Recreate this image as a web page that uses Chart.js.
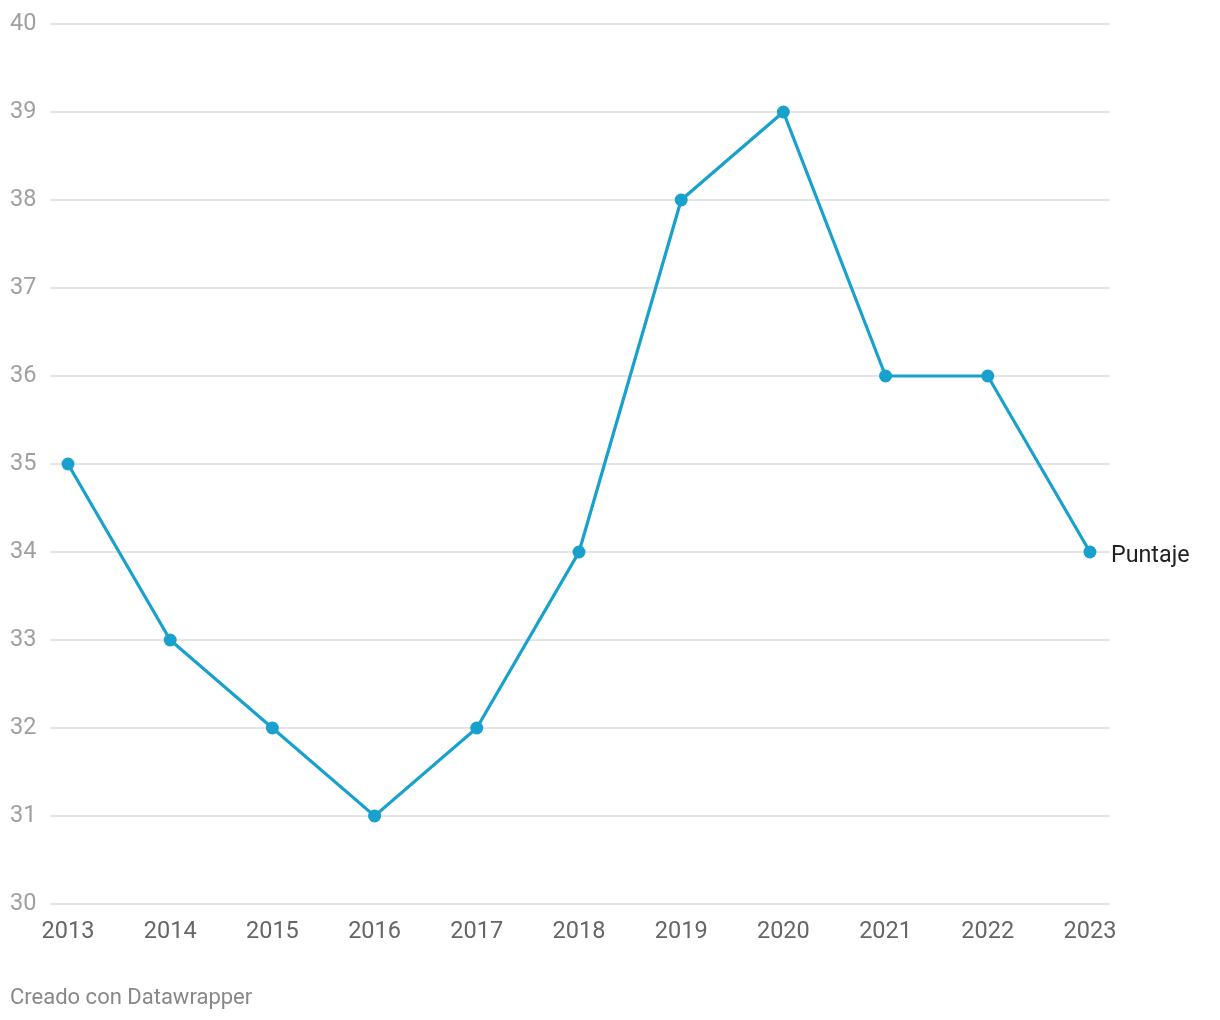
<!DOCTYPE html>
<html>
<head>
<meta charset="utf-8">
<script src="https://cdn.jsdelivr.net/npm/chart.js@4/dist/chart.umd.min.js"></script>
<style>
  html, body { margin: 0; padding: 0; background: #fff; }
  #wrap { position: relative; width: 1220px; height: 1020px; }
  #footer { position: absolute; left: 10px; top: 984px; font: 22px Roboto, sans-serif; color: #888; }
</style>
</head>
<body>
<div id="wrap">
  <canvas id="chart" width="1220" height="1020"></canvas>
  <div id="footer">Creado con Datawrapper</div>
</div>
<script>
var years = [2013, 2014, 2015, 2016, 2017, 2018, 2019, 2020, 2021, 2022, 2023]
var puntaje = [35, 33, 32, 31, 32, 34, 38, 39, 36, 36, 34]
var seriesName = 'Puntaje'
var yTicks = [30, 31, 32, 33, 34, 35, 36, 37, 38, 39, 40]

var lineColor = '#18a1cd'

// label at the end of the line
var endLabel = {
  id: 'endLabel',
  afterDatasetsDraw: function(chart) {
    var meta = chart.getDatasetMeta(0)
    var last = meta.data[meta.data.length - 1]
    var c = chart.ctx
    c.save()
    c.font = '23.3px Roboto'
    c.fillStyle = '#222'
    c.textAlign = 'left'
    c.textBaseline = 'middle'
    c.fillText(seriesName, last.x + 21, last.y + 4)
    c.restore()
  }
}

var ctx = document.getElementById('chart').getContext('2d')

new Chart(ctx, {
  type: 'line',
  data: {
    datasets: [{
      label: seriesName,
      data: years.map(function(y, i) { return {x: y, y: puntaje[i]} }),
      borderColor: lineColor,
      backgroundColor: lineColor,
      borderWidth: 3.2,
      pointRadius: 6.5,
      pointBorderWidth: 0,
      pointBackgroundColor: lineColor,
      tension: 0
    }]
  },
  options: {
    responsive: false,
    animation: false,
    layout: { padding: { left: 10, right: 110, top: 24, bottom: 56 } },
    plugins: {
      legend: { display: false },
      tooltip: { enabled: false }
    },
    scales: {
      x: {
        type: 'linear',
        min: 2012.824,
        max: 2023.196,
        afterBuildTicks: function(s) { s.ticks = years.map(function(y) { return {value: y} }) },
        afterFit: function(s) { s.height = 60 },
        grid: { display: false, drawTicks: false },
        border: { display: false },
        ticks: {
          padding: 14,
          maxRotation: 0,
          autoSkip: false,
          color: '#666',
          font: { family: 'Roboto', size: 23.5 },
          callback: function(v) { return String(v) }
        }
      },
      y: {
        min: 30,
        max: 40,
        afterBuildTicks: function(s) { s.ticks = yTicks.map(function(v) { return {value: v} }) },
        afterFit: function(s) { s.width = 40 },
        grid: { color: '#e5e5e5', lineWidth: 2, drawTicks: false },
        border: { display: false },
        ticks: {
          crossAlign: 'far',
          padding: 0,
          color: '#a0a0a0',
          font: { family: 'Roboto', size: 23.5 }
        }
      }
    }
  },
  plugins: [endLabel]
})
</script>
</body>
</html>
